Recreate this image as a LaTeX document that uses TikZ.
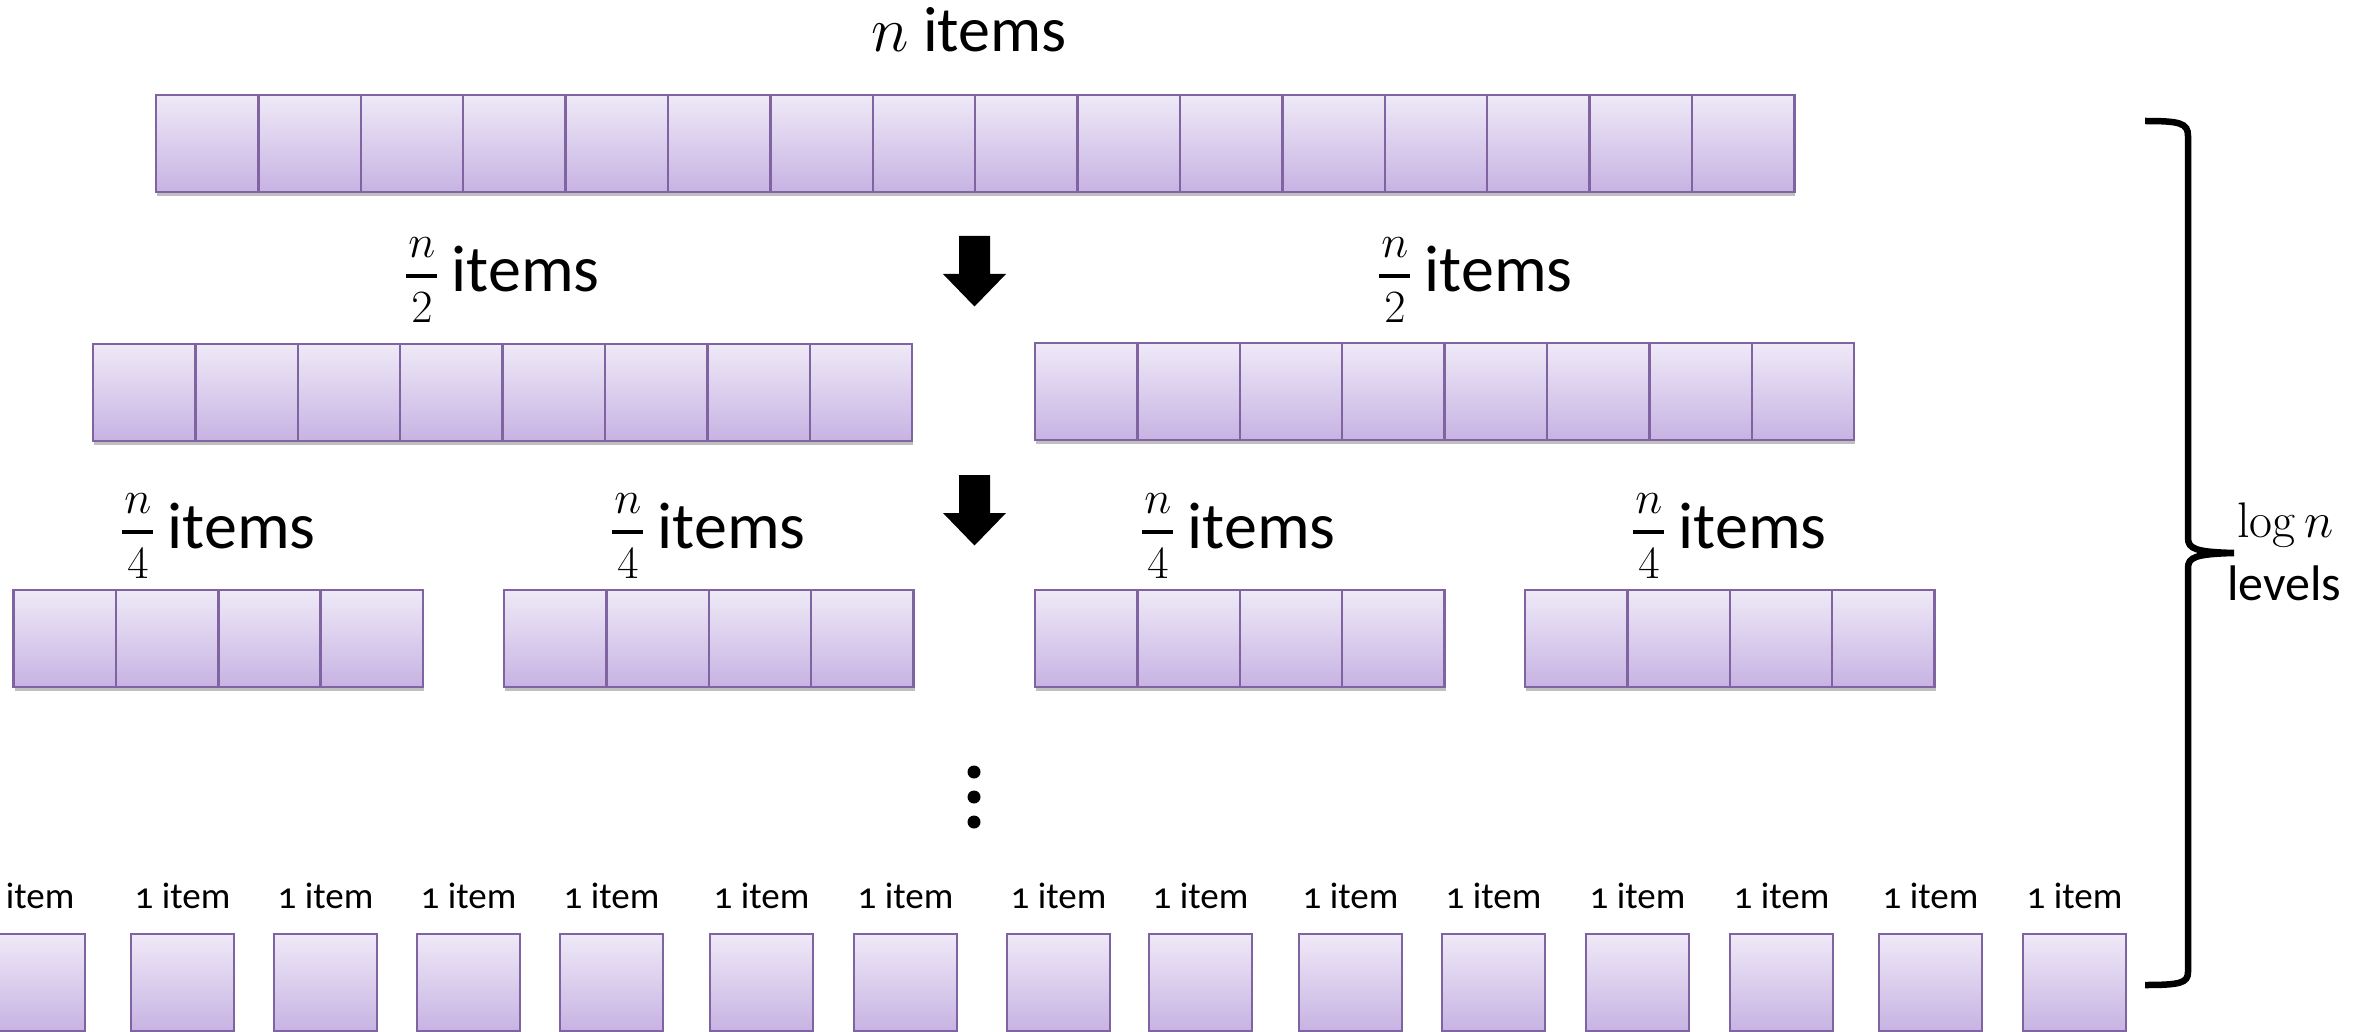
\RequirePackage{fix-cm}
\documentclass[tikz,border=0pt]{standalone}
\usepackage{amsmath}
\usepackage[no-math]{fontspec}
\setmainfont{Carlito}
\usetikzlibrary{shadows}
\definecolor{cellborder}{RGB}{128,100,162}
\definecolor{celltop}{RGB}{239,233,247}
\definecolor{cellbot}{RGB}{199,179,227}
\newcommand{\fracn}[1]{$\genfrac{}{}{4pt}{1}{\rule[-12pt]{0pt}{12pt}\hbox to 31pt{\hss$\scriptstyle n$\hss}}{\rule{0pt}{41pt}#1}$}
\begin{document}
\begin{tikzpicture}[x=1pt,y=-1pt,
  cell/.style={draw=cellborder, line width=2.5pt, top color=celltop, bottom color=cellbot,
    minimum width=102.4pt, minimum height=97pt, inner sep=0pt, outer sep=0pt, anchor=north west,
    drop shadow={shadow xshift=1pt, shadow yshift=-4pt, opacity=0.25, fill=black}},
  single/.style={cell, minimum width=103pt},
  biglab/.style={inner sep=0pt, anchor=base west, font=\fontsize{66}{72}\selectfont},
  toplab/.style={inner sep=0pt, anchor=base west, font=\fontsize{64}{70}\selectfont},
  onelab/.style={inner sep=0pt, anchor=base, font=\fontsize{37}{42}\selectfont},
  sidelab/.style={inner sep=0pt, anchor=base west, font=\fontsize{50}{56}\selectfont},
  blockarrow/.style={fill=black},
  brace/.style={draw=black, line width=6.5pt, line join=miter}]
\useasboundingbox (0,0) rectangle (2353,1032);

% level 0
\foreach \i in {0,...,15} \node[cell] (top\i) at ({156+\i*102.4},95) {};
\node[toplab] (ltop) at (871,52) {$n$ items};

% arrows
\fill[blockarrow] (959,236) -- (990,236) -- (990,274) -- (1006,274) -- (974.5,306.5) -- (943,274) -- (959,274) -- cycle;
\fill[blockarrow] (959,475) -- (990,475) -- (990,513) -- (1006,513) -- (974.5,545.5) -- (943,513) -- (959,513) -- cycle;

% level 1
\foreach \i in {0,...,7} \node[cell] (la\i) at ({93+\i*102.4},344) {};
\foreach \i in {0,...,7} \node[cell] (lb\i) at ({1035+\i*102.4},343) {};
\node[biglab] (l2a) at (405,292) {\fracn{2}\hspace{13pt}items};
\node[biglab] (l2b) at (1378,292) {\fracn{2}\hspace{13pt}items};

% level 2
\foreach \g/\x in {1/13.5,2/504,3/1035,4/1525}{
  \foreach \i in {0,...,3} \node[cell] (g\g c\i) at ({\x+\i*102.4},590) {};
}
\node[biglab] (l4a) at (121,548) {\fracn{4}\hspace{13pt}items};
\node[biglab] (l4b) at (611,548) {\fracn{4}\hspace{13pt}items};
\node[biglab] (l4c) at (1141,548) {\fracn{4}\hspace{13pt}items};
\node[biglab] (l4d) at (1632,548) {\fracn{4}\hspace{13pt}items};

% dots
\foreach \k/\y in {1/772,2/797,3/822} \fill (974,\y) circle (6.5pt);

% level log n
\foreach \k/\x/\dx in {1/-18/-7,2/131/0,3/274/0,4/417/0,5/560/0,6/710/0,7/854/0,8/1007/0,9/1149/0,10/1299/0,11/1442/0,12/1586/0,13/1730/0,14/1879/0,15/2023/0}{
  \node[single] (s\k) at (\x,934) {};
  \node[onelab] (t\k) at ({\x+51.5+\dx},908) {\oldstylenums{1} item};
}

% brace
\draw[brace] (2145,121) .. controls (2180,121) and (2188,123) .. (2188,136)
  -- (2188,538) .. controls (2188,549) and (2196,552) .. (2234,553)
  .. controls (2196,554) and (2188,557) .. (2188,568)
  -- (2188,972) .. controls (2188,983) and (2180,985) .. (2145,985);
\node[sidelab] (logn) at (2237,537) {$\log n$};
\node[sidelab] (levels) at (2227,600) {levels};
\end{tikzpicture}
\end{document}
